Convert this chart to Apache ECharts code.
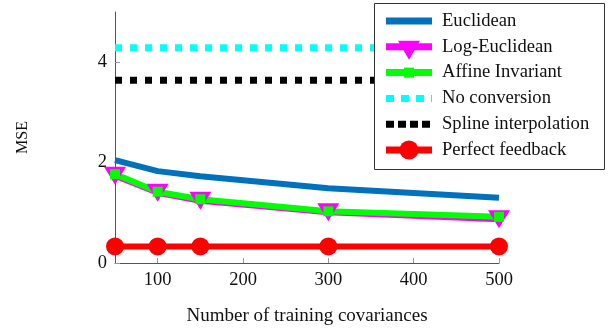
<!DOCTYPE html>
<html>
<head>
<meta charset="utf-8">
<script src="https://cdn.jsdelivr.net/npm/echarts@6/dist/echarts.min.js"></script>
<style>html,body{margin:0;padding:0;background:#fff}#c{width:615px;height:331px}</style>
</head>
<body>
<div id="c"></div>
<script>
const xValues = [50, 100, 150, 300, 500];
const euclidean = [2.05, 1.83, 1.73, 1.49, 1.30];
const logEuclidean = [1.74, 1.40, 1.24, 1.01, 0.87];
const affineInvariant = [1.77, 1.42, 1.27, 1.03, 0.92];
const noConversion = [4.29, 4.29, 4.29, 4.29, 4.29];
const splineInterp = [3.64, 3.64, 3.64, 3.64, 3.64];
const perfectFeedback = [0.33, 0.33, 0.33, 0.33, 0.33];
const xTicks = [100, 200, 300, 400, 500];
const yTicks = [0, 2, 4];
const seriesNames = ['Euclidean', 'Log-Euclidean', 'Affine Invariant', 'No conversion', 'Spline interpolation', 'Perfect feedback'];

const pair = arr => xValues.map((x, i) => [x, arr[i]]);
const font = 'Liberation Serif';
const colors = ['#0072bd', '#ff00ff', '#00ff00', '#00ffff', '#000000', '#ff0000'];
const legendMarks = ['none', 'tri', 'square', 'none', 'none', 'circle'];
const legendDash = [null, null, null, [8, 7], [8, 4], null];

// Legend built as graphic (box, sample lines, markers, labels)
const LX = 374, LY = 3, LW = 230, LH = 166;
const rowY0 = 21, rowStep = 25.8, sx1 = 386, sx2 = 432, tx = 442;
const legendGraphics = [{
  type: 'rect', z: 100, shape: { x: LX + 0.5, y: LY + 0.5, width: LW, height: LH },
  style: { fill: '#fff', stroke: '#333', lineWidth: 1 }
}];
seriesNames.forEach((name, i) => {
  const y = rowY0 + i * rowStep;
  const c = colors[i];
  legendGraphics.push({
    type: 'line', z: 101,
    shape: { x1: sx1, y1: y, x2: sx2, y2: y },
    style: { stroke: c, lineWidth: 7, lineDash: legendDash[i] || null, lineCap: 'butt' }
  });
  const cx = (sx1 + sx2) / 2;
  if (legendMarks[i] === 'tri') {
    legendGraphics.push({ type: 'polygon', z: 102,
      shape: { points: [[cx - 11, y - 6], [cx + 11, y - 6], [cx, y + 13]] }, style: { fill: c } });
  } else if (legendMarks[i] === 'square') {
    legendGraphics.push({ type: 'rect', z: 102,
      shape: { x: cx - 5, y: y - 5, width: 10, height: 10 }, style: { fill: c } });
  } else if (legendMarks[i] === 'circle') {
    legendGraphics.push({ type: 'circle', z: 102,
      shape: { cx: cx, cy: y, r: 9.5 }, style: { fill: c } });
  }
  legendGraphics.push({
    type: 'text', z: 102, x: tx, y: y,
    style: { text: name, font: '18.6px "Liberation Serif"', fill: '#111', verticalAlign: 'middle', align: 'left' }
  });
});

const chart = echarts.init(document.getElementById('c'));
chart.setOption({
  animation: false,
  textStyle: { fontFamily: font },
  grid: { left: 115, right: 116, top: 12, bottom: 68 },
  graphic: legendGraphics,
  xAxis: {
    type: 'value', min: 50, max: 500,
    name: 'Number of training covariances', nameLocation: 'middle', nameGap: 44,
    nameTextStyle: { fontFamily: font, fontSize: 19, color: '#111' },
    axisLine: { lineStyle: { color: '#555', width: 1 } },
    axisTick: { inside: true, length: 5, customValues: xTicks, lineStyle: { color: '#999' } },
    axisLabel: { customValues: xTicks, fontFamily: font, fontSize: 18.5, color: '#111', margin: 8 },
    splitLine: { show: false }
  },
  yAxis: {
    type: 'value', min: 0, max: 5,
    name: 'MSE', nameLocation: 'middle', nameGap: 84, nameRotate: 90,
    nameTextStyle: { fontFamily: font, fontSize: 16, color: '#111' },
    axisLine: { show: true, lineStyle: { color: '#555', width: 1 } },
    axisTick: { show: true, inside: true, length: 5, customValues: yTicks, lineStyle: { color: '#999' } },
    axisLabel: { customValues: yTicks, fontFamily: font, fontSize: 18.5, color: '#111', margin: 8 },
    splitLine: { show: false }
  },
  series: [
    { name: seriesNames[0], type: 'line', data: pair(euclidean), symbol: 'none',
      lineStyle: { color: colors[0], width: 6 }, itemStyle: { color: colors[0] } },
    { name: seriesNames[1], type: 'line', data: pair(logEuclidean),
      symbol: 'path://M0,0 L22,0 L11,19 Z', symbolSize: [22, 18], showAllSymbol: true,
      lineStyle: { color: colors[1], width: 6 }, itemStyle: { color: colors[1] } },
    { name: seriesNames[2], type: 'line', data: pair(affineInvariant),
      symbol: 'rect', symbolSize: 10, showAllSymbol: true,
      lineStyle: { color: colors[2], width: 6 }, itemStyle: { color: colors[2] } },
    { name: seriesNames[3], type: 'line', data: pair(noConversion), symbol: 'none',
      lineStyle: { color: colors[3], width: 7, type: [7, 8], cap: 'butt' }, itemStyle: { color: colors[3] } },
    { name: seriesNames[4], type: 'line', data: pair(splineInterp), symbol: 'none',
      lineStyle: { color: colors[4], width: 7, type: [7, 8], cap: 'butt' }, itemStyle: { color: colors[4] } },
    { name: seriesNames[5], type: 'line', data: pair(perfectFeedback),
      symbol: 'circle', symbolSize: 18, showAllSymbol: true,
      lineStyle: { color: colors[5], width: 6 }, itemStyle: { color: colors[5] } }
  ]
});
</script>
</body>
</html>
